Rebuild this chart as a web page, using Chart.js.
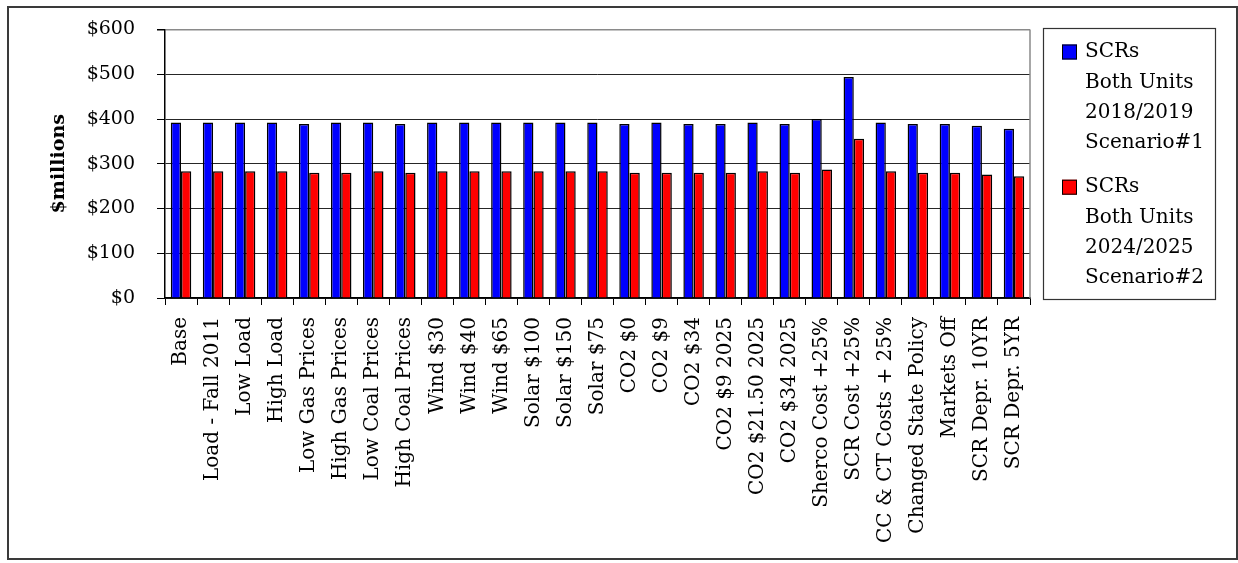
<!DOCTYPE html>
<html>
<head>
<meta charset="utf-8">
<title>SCR scenario costs</title>
<script src="https://cdn.jsdelivr.net/npm/chart.js@4.4.1/dist/chart.umd.min.js"></script>
<style>
  html, body { margin: 0; padding: 0; background: #fff; }
  #wrap { position: relative; width: 1238px; height: 563px; }
  #frame { position: absolute; left: 7px; top: 6px; width: 1227px; height: 550px; border: 2px solid #3a3a3a; pointer-events: none; }
  canvas { display: block; }
</style>
</head>
<body>
<div id="wrap">
  <canvas id="chart" width="1238" height="563"></canvas>
  <div id="frame"></div>
</div>
<script>
// Sensitivity cases
const categories = [
  'Base', 'Load - Fall 2011', 'Low Load', 'High Load', 'Low Gas Prices',
  'High Gas Prices', 'Low Coal Prices', 'High Coal Prices', 'Wind $30', 'Wind $40',
  'Wind $65', 'Solar $100', 'Solar $150', 'Solar $75', 'CO2 $0', 'CO2 $9', 'CO2 $34',
  'CO2 $9 2025', 'CO2 $21.50 2025', 'CO2 $34 2025', 'Sherco Cost +25%',
  'SCR Cost +25%', 'CC & CT Costs + 25%', 'Changed State Policy', 'Markets Off',
  'SCR Depr. 10YR', 'SCR Depr. 5YR'
];

// $ millions
const scenario1 = [
  392, 392, 392, 392, 389, 392, 392, 389, 392, 392,
  392, 392, 392, 392, 389, 392, 389, 389, 392, 389,
  400, 494, 392, 389, 389, 385, 378
];
const scenario2 = [
  283, 283, 283, 283, 280, 280, 283, 280, 283, 283,
  283, 283, 283, 283, 280, 280, 280, 280, 283, 280,
  287, 356, 283, 280, 280, 276, 272
];

const scenario1Name = ['SCRs', 'Both Units', '2018/2019', 'Scenario#1'];
const scenario2Name = ['SCRs', 'Both Units', '2024/2025', 'Scenario#2'];

const yTickValues = [0, 100, 200, 300, 400, 500, 600];
const yTitle = '$millions';

const FONT = "'DejaVu Serif', 'Liberation Serif', serif";

// Boxed legend to the right of the plot, one multi-line entry per series
const boxLegend = {
  id: 'boxLegend',
  afterDraw(chart) {
    const ctx = chart.ctx;
    const area = chart.chartArea;
    const left = area.right + 13;
    const right = left + 172;
    const top = area.top - 1.5;
    const bottom = area.bottom + 1;
    ctx.save();
    ctx.strokeStyle = '#333';
    ctx.lineWidth = 1.2;
    ctx.strokeRect(left + 0.5, top + 0.5, right - left, bottom - top);
    ctx.font = '20px ' + FONT;
    ctx.fillStyle = '#000';
    ctx.textBaseline = 'middle';
    ctx.textAlign = 'left';
    const lineStep = 30.3;
    let y = top + 24;
    chart.data.datasets.forEach((ds) => {
      ctx.fillStyle = ds.backgroundColor;
      ctx.fillRect(left + 19, y - 7.5, 15, 15);
      ctx.strokeStyle = '#000';
      ctx.lineWidth = 1;
      ctx.strokeRect(left + 19.5, y - 7, 14, 14);
      ctx.fillStyle = '#000';
      const lines = Array.isArray(ds.label) ? ds.label : [ds.label];
      lines.forEach((line, i) => {
        ctx.fillText(line, left + 42, y + i * lineStep);
      });
      y += lines.length * lineStep + 14;
    });
    ctx.restore();
  }
};

// Grey right edge of the plot area
const plotEdge = {
  id: 'plotEdge',
  beforeDatasetsDraw(chart) {
    const ctx = chart.ctx;
    const a = chart.chartArea;
    ctx.save();
    ctx.strokeStyle = '#8a8a8a';
    ctx.lineWidth = 1.5;
    ctx.beginPath();
    ctx.moveTo(a.right, a.top);
    ctx.lineTo(a.right, a.bottom);
    ctx.stroke();
    ctx.restore();
  }
};

new Chart(document.getElementById('chart'), {
  type: 'bar',
  data: {
    labels: categories,
    datasets: [
      {
        label: scenario1Name,
        data: scenario1,
        backgroundColor: '#0000ff',
        borderColor: '#000',
        borderWidth: 1.5
      },
      {
        label: scenario2Name,
        data: scenario2,
        backgroundColor: '#ff0000',
        borderColor: '#000',
        borderWidth: 1.5
      }
    ]
  },
  options: {
    responsive: false,
    animation: false,
    devicePixelRatio: 1,
    layout: { padding: { left: 8, top: 29.5, right: 208, bottom: 8 } },
    datasets: {
      bar: { barPercentage: 1.0, categoryPercentage: 0.64 }
    },
    plugins: {
      legend: { display: false },
      tooltip: { enabled: false }
    },
    scales: {
      x: {
        offset: true,
        grid: {
          offset: true,
          drawOnChartArea: false,
          drawTicks: true,
          tickLength: 7,
          tickColor: '#000',
          tickWidth: 1
        },
        border: { color: '#000', width: 1.5 },
        ticks: {
          autoSkip: false,
          maxRotation: 90,
          minRotation: 90,
          padding: 12,
          color: '#000',
          font: { family: FONT, size: 20 }
        },
        afterFit(scale) { scale.height = 257; }
      },
      y: {
        min: 0,
        max: 600,
        afterBuildTicks(scale) {
          scale.ticks = yTickValues.map(v => ({ value: v }));
        },
        grid: {
          color: (c) => (c.tick && c.tick.value === 600 ? '#8a8a8a' : '#262626'),
          lineWidth: (c) => (c.tick && c.tick.value === 600 ? 1.5 : 1),
          tickLength: 8,
          tickColor: '#000'
        },
        border: { color: '#000', width: 1.5 },
        ticks: {
          padding: 22,
          color: '#000',
          font: { family: FONT, size: 19 },
          callback: (v) => '$' + v
        },
        title: {
          display: true,
          text: yTitle,
          color: '#000',
          font: { family: FONT, size: 19, weight: 'bold' },
          padding: { top: 40, bottom: 0 }
        },
        afterFit(scale) {
          scale.width = 157;
          // the horizontal label gap should not push the plot down
          scale.paddingTop = 12;
          scale.paddingBottom = 12;
        }
      }
    }
  },
  plugins: [plotEdge, boxLegend]
});
</script>
</body>
</html>
